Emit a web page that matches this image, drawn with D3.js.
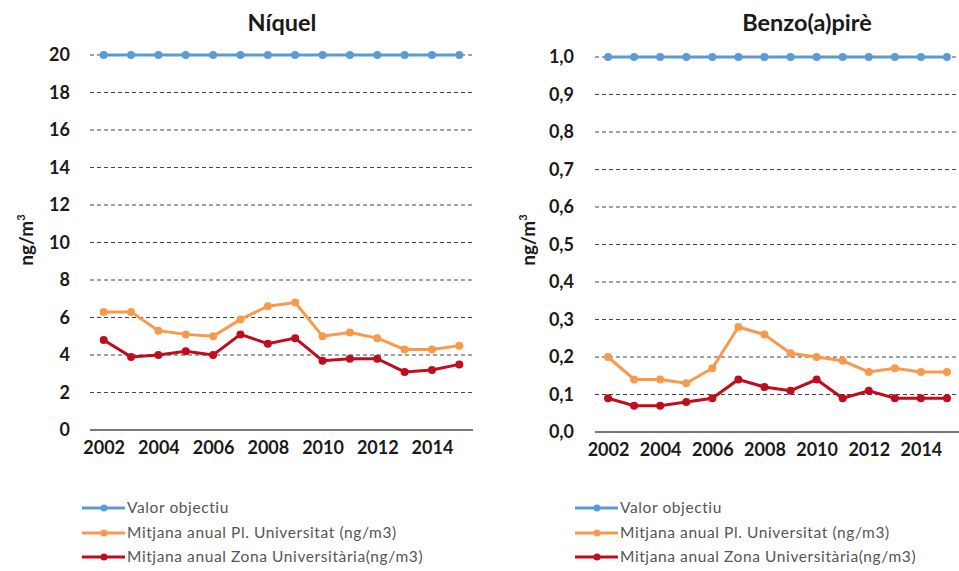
<!DOCTYPE html>
<html>
<head>
<meta charset="utf-8">
<script src="https://cdn.jsdelivr.net/npm/d3@7"></script>
<style>
    body { margin: 0; background: #fff; }
    svg { display: block; font-family: Lato, "Open Sans", sans-serif; }
</style>
</head>
<body>
<div id="chart"></div>
<script>

/**
 * DATA
 */
const years = [2002, 2003, 2004, 2005, 2006, 2007, 2008, 2009, 2010, 2011, 2012, 2013, 2014, 2015];
const yearLabels = [2002, 2004, 2006, 2008, 2010, 2012, 2014];
const seriesNames = ["Valor objectiu", "Mitjana anual Pl. Universitat (ng/m3)", "Mitjana anual Zona Universitària(ng/m3)"];

const niquelObjectiu = [20, 20, 20, 20, 20, 20, 20, 20, 20, 20, 20, 20, 20, 20];
const niquelPlUniversitat = [6.3, 6.3, 5.3, 5.1, 5.0, 5.9, 6.6, 6.8, 5.0, 5.2, 4.9, 4.3, 4.3, 4.5];
const niquelZonaUniversitaria = [4.8, 3.9, 4.0, 4.2, 4.0, 5.1, 4.6, 4.9, 3.7, 3.8, 3.8, 3.1, 3.2, 3.5];
const niquelTicks = [0, 2, 4, 6, 8, 10, 12, 14, 16, 18, 20];

const bapObjectiu = [1, 1, 1, 1, 1, 1, 1, 1, 1, 1, 1, 1, 1, 1];
const bapPlUniversitat = [0.20, 0.14, 0.14, 0.13, 0.17, 0.28, 0.26, 0.21, 0.20, 0.19, 0.16, 0.17, 0.16, 0.16];
const bapZonaUniversitaria = [0.09, 0.07, 0.07, 0.08, 0.09, 0.14, 0.12, 0.11, 0.14, 0.09, 0.11, 0.09, 0.09, 0.09];
const bapTicks = [0, 0.1, 0.2, 0.3, 0.4, 0.5, 0.6, 0.7, 0.8, 0.9, 1.0];

const COLORS = ["#5b9bd5", "#f79a4c", "#c00d1e"];

/**
 * MACROS
 */
const WIDTH = 959, HEIGHT = 571;

const svg = d3.select("#chart").append("svg")
    .attr("width", WIDTH)
    .attr("height", HEIGHT);

/**
 * Draw one panel (title, grid, axis, lines, legend)
 * @param {Object} p
 */
function drawPanel(p){

    let x = d3.scalePoint().domain(years).range([p.x0, p.x1]).padding(0.5);
    let y = d3.scaleLinear().domain([0, d3.max(p.ticks)]).range([p.y0, p.y1]);

    let g = svg.append("g");

    // title
    g.append("text")
        .attr("x", p.titleX)
        .attr("y", 31)
        .attr("text-anchor", "middle")
        .style("font-size", "23.5px")
        .style("font-weight", "bold")
        .attr("fill", "#1a1a1a")
        .text(p.title);

    // dashed grid
    g.selectAll(".grid")
        .data(p.ticks.slice(1))
        .enter().append("line")
        .attr("x1", p.x0).attr("x2", p.x1)
        .attr("y1", d => y(d)).attr("y2", d => y(d))
        .attr("stroke", "#444")
        .attr("stroke-width", 1.2)
        .attr("stroke-dasharray", "4,3");

    // y axis labels
    let yAxis = d3.axisLeft(y).tickValues(p.ticks).tickSize(0).tickPadding(0).tickFormat(p.fmt);
    let ya = g.append("g")
        .attr("transform", "translate(" + p.labelX + ",0)")
        .call(yAxis);
    ya.select(".domain").remove();
    ya.selectAll("text")
        .style("font-family", "Lato, sans-serif")
        .style("font-size", "18px")
        .style("font-weight", "bold")
        .attr("fill", "#1a1a1a");

    // x axis
    let xAxis = d3.axisBottom(x).tickValues(yearLabels).tickSize(0).tickPadding(11);
    let xa = g.append("g")
        .attr("transform", "translate(0," + p.y0 + ")")
        .call(xAxis);
    xa.select(".domain")
        .attr("d", "M" + p.x0 + ",0H" + p.x1)
        .attr("stroke", "#777")
        .attr("stroke-width", 2);
    xa.selectAll("text")
        .style("font-family", "Lato, sans-serif")
        .style("font-size", "18px")
        .style("font-weight", "bold")
        .attr("fill", "#1a1a1a");

    // y title
    let yt = g.append("text")
        .attr("transform", "translate(" + p.yTitleX + ",240) rotate(-90)")
        .attr("text-anchor", "middle")
        .style("font-size", "19px")
        .style("font-weight", "bold")
        .attr("fill", "#1a1a1a");
    yt.append("tspan").text("ng/m");
    yt.append("tspan").attr("dy", -8).style("font-size", "11px").text("3");

    // series
    let line = d3.line().x((d, i) => x(years[i])).y(d => y(d));

    p.series.forEach(function(values, s){
        g.append("path")
            .datum(values)
            .attr("d", line)
            .attr("fill", "none")
            .attr("stroke", COLORS[s])
            .attr("stroke-width", 3);
        g.selectAll(".pt" + s)
            .data(values)
            .enter().append("circle")
            .attr("cx", (d, i) => x(years[i]))
            .attr("cy", d => y(d))
            .attr("r", 4)
            .attr("fill", COLORS[s]);
    });

    // legend
    let legend = g.selectAll(".leg")
        .data(seriesNames)
        .enter().append("g")
        .attr("transform", (d, i) => "translate(" + p.legendX + "," + [508, 533, 557][i] + ")");
    legend.append("line")
        .attr("x1", 0).attr("x2", 43)
        .attr("stroke", (d, i) => COLORS[i])
        .attr("stroke-width", 3);
    legend.append("circle")
        .attr("cx", 22)
        .attr("r", 3.5)
        .attr("fill", (d, i) => COLORS[i]);
    legend.append("text")
        .attr("x", 45)
        .attr("dy", "0.35em")
        .style("font-size", "15.5px")
        .style("letter-spacing", "0.6px")
        .attr("fill", "#555")
        .text(d => d);
}

drawPanel({
    title: "Níquel", titleX: 282,
    x0: 90, x1: 473, y0: 430, y1: 55,
    labelX: 70, yTitleX: 33, legendX: 82,
    ticks: niquelTicks,
    fmt: d3.format("d"),
    series: [niquelObjectiu, niquelPlUniversitat, niquelZonaUniversitaria]
});

drawPanel({
    title: "Benzo(a)pirè", titleX: 807,
    x0: 595, x1: 960, y0: 432, y1: 57,
    labelX: 574, yTitleX: 535, legendX: 575,
    ticks: bapTicks,
    fmt: d => d3.format(".1f")(d).replace(".", ","),
    series: [bapObjectiu, bapPlUniversitat, bapZonaUniversitaria]
});

</script>
</body>
</html>
